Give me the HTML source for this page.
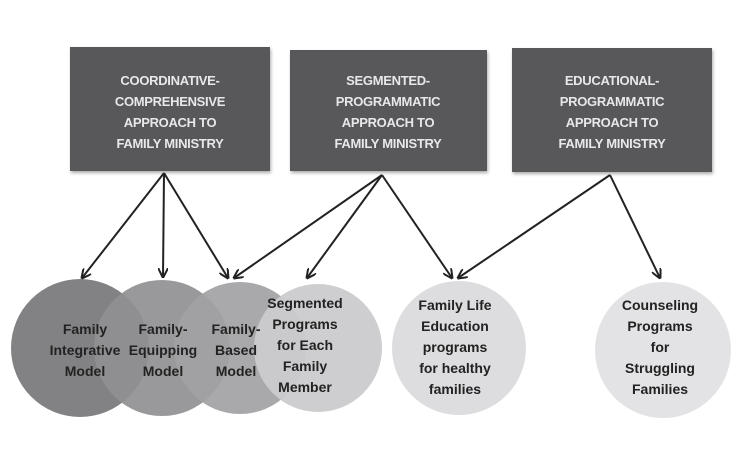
<!DOCTYPE html>
<html><head><style>
body{margin:0;background:#fff;}
svg{display:block;}
.bt{font-family:"Liberation Sans",sans-serif;font-size:13px;fill:#e8e8ea;text-anchor:middle;font-weight:bold;letter-spacing:-0.3px}
.ct{font-family:"Liberation Sans",sans-serif;font-size:14px;fill:#222;text-anchor:middle;font-weight:bold}
</style></head><body>
<svg width="747" height="455" viewBox="0 0 747 455">
<defs><marker id="a" markerWidth="10" markerHeight="10" refX="9" refY="5" orient="auto" markerUnits="userSpaceOnUse"><path d="M0,0 L10,5 L0,10" fill="none" stroke="#222" stroke-width="2"/></marker>
<filter id="sh"><feDropShadow dx="1" dy="2" stdDeviation="1.5" flood-color="#888" flood-opacity="0.7"/></filter></defs>
<g filter="url(#sh)">
<rect x="70" y="47" width="200" height="124" fill="#58585a"/>
<rect x="290" y="50" width="197" height="121" fill="#58585a"/>
<rect x="512" y="48" width="200" height="124" fill="#58585a"/>
</g>
<text class="bt" x="170" y="85">COORDINATIVE-</text>
<text class="bt" x="170" y="106">COMPREHENSIVE</text>
<text class="bt" x="170" y="127">APPROACH TO</text>
<text class="bt" x="170" y="148">FAMILY MINISTRY</text>
<text class="bt" x="388" y="85">SEGMENTED-</text>
<text class="bt" x="388" y="106">PROGRAMMATIC</text>
<text class="bt" x="388" y="127">APPROACH TO</text>
<text class="bt" x="388" y="148">FAMILY MINISTRY</text>
<text class="bt" x="612" y="85">EDUCATIONAL-</text>
<text class="bt" x="612" y="106">PROGRAMMATIC</text>
<text class="bt" x="612" y="127">APPROACH TO</text>
<text class="bt" x="612" y="148">FAMILY MINISTRY</text>
<circle cx="80" cy="348" r="69" fill="#828284"/>
<circle cx="162" cy="348" r="68" fill="#909092" opacity="0.92"/>
<circle cx="240" cy="348" r="66" fill="#a2a2a4" opacity="0.92"/>
<circle cx="318" cy="348" r="64" fill="#cbcbcd" opacity="0.95"/>
<circle cx="459" cy="348" r="67" fill="#dddddf"/>
<circle cx="663" cy="350" r="68" fill="#e3e3e5"/>
<text class="ct" x="85" y="334">Family</text><text class="ct" x="85" y="355">Integrative</text><text class="ct" x="85" y="376">Model</text>
<text class="ct" x="163" y="334">Family-</text><text class="ct" x="163" y="355">Equipping</text><text class="ct" x="163" y="376">Model</text>
<text class="ct" x="236" y="334">Family-</text><text class="ct" x="236" y="355">Based</text><text class="ct" x="236" y="376">Model</text>
<text class="ct" x="305" y="308">Segmented</text><text class="ct" x="305" y="329">Programs</text><text class="ct" x="305" y="350">for Each</text><text class="ct" x="305" y="371">Family</text><text class="ct" x="305" y="392">Member</text>
<text class="ct" x="455" y="310">Family Life</text><text class="ct" x="455" y="331">Education</text><text class="ct" x="455" y="352">programs</text><text class="ct" x="455" y="373">for healthy</text><text class="ct" x="455" y="394">families</text>
<text class="ct" x="660" y="310">Counseling</text><text class="ct" x="660" y="331">Programs</text><text class="ct" x="660" y="352">for</text><text class="ct" x="660" y="373">Struggling</text><text class="ct" x="660" y="394">Families</text>
<g stroke="#222" stroke-width="2" fill="none" marker-end="url(#a)">
<line x1="164" y1="173" x2="82" y2="278"/>
<line x1="164" y1="173" x2="163" y2="277"/>
<line x1="164" y1="173" x2="228" y2="278"/>
<line x1="382" y1="175" x2="234" y2="278"/>
<line x1="382" y1="175" x2="307" y2="278"/>
<line x1="382" y1="175" x2="452" y2="278"/>
<line x1="610" y1="175" x2="458" y2="278"/>
<line x1="610" y1="175" x2="660" y2="278"/>
</g>
</svg>
</body></html>
